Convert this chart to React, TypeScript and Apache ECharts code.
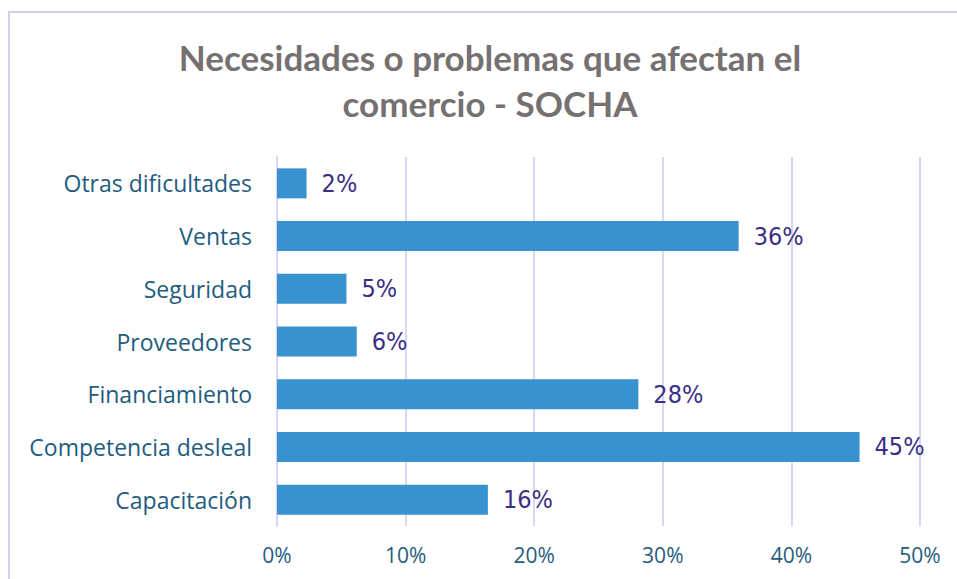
import React, { useEffect, useRef } from "react";
import * as echarts from "echarts";

const categories = [
  "Otras dificultades",
  "Ventas",
  "Seguridad",
  "Proveedores",
  "Financiamiento",
  "Competencia desleal",
  "Capacitación",
];
const values = [2.3, 35.9, 5.4, 6.2, 28.1, 45.3, 16.4];
const titleText = "Necesidades o problemas que afectan el\ncomercio - SOCHA";

export default function App() {
  const ref = useRef<HTMLDivElement>(null);
  useEffect(() => {
    if (!ref.current) return;
    const chart = echarts.init(ref.current, null, { renderer: "svg" });
    chart.setOption({
      animation: false,
      backgroundColor: "#ffffff",
      graphic: [
        {
          type: "rect",
          shape: { x: 9, y: 12, width: 1000, height: 700 },
          style: { fill: "none", stroke: "#D3CFF2", lineWidth: 2 },
          silent: true,
        },
        {
          type: "text",
          x: 490,
          y: 34,
          style: {
            text: titleText,
            align: "center",
            verticalAlign: "top",
            fontFamily: "Lato",
            fontWeight: "bold",
            fontSize: 35,
            lineHeight: 46,
            fill: "#767171",
          },
        },
      ],
      grid: { left: 277, right: 37, top: 157, bottom: 53 },
      xAxis: {
        type: "value",
        min: 0,
        max: 50,
        interval: 10,
        axisLine: { show: false },
        axisTick: { show: false },
        splitLine: { show: true, lineStyle: { color: "#D9D5F4", width: 2 } },
        axisLabel: {
          formatter: "{value}%",
          color: "#1F5C80",
          fontFamily: "Open Sans",
          fontSize: 21,
          margin: 18,
        },
      },
      yAxis: {
        type: "category",
        data: categories,
        inverse: true,
        axisLine: { show: true, lineStyle: { color: "#D9D5F4", width: 2 } },
        axisTick: { show: false },
        axisLabel: {
          color: "#1F5C80",
          fontFamily: "Open Sans",
          fontSize: 23,
          margin: 25,
        },
      },
      series: [
        {
          type: "bar",
          data: values,
          barWidth: 30,
          itemStyle: { color: "#3892CF" },
          label: {
            show: true,
            position: "right",
            distance: 15,
            formatter: (p: any) => Math.round(p.value) + "%",
            color: "#3B2E85",
            fontFamily: "'DejaVu Sans Condensed', 'Liberation Sans', sans-serif",
            fontSize: 25,
          },
        },
      ],
    });
    return () => chart.dispose();
  }, []);
  return (
    <div
      ref={ref}
      style={{ position: "fixed", left: 0, top: 0, width: 957, height: 579 }}
    />
  );
}
